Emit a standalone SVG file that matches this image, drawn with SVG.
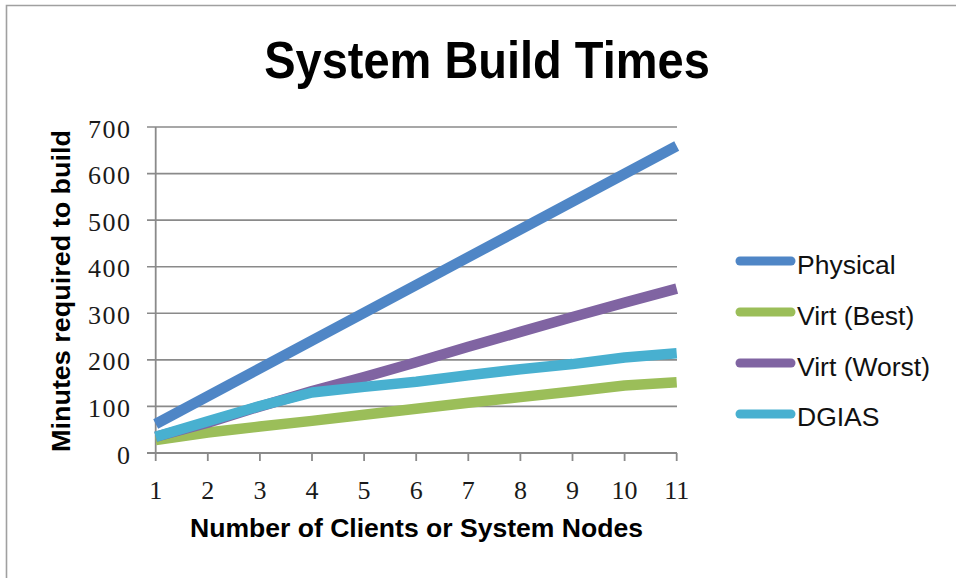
<svg xmlns="http://www.w3.org/2000/svg" width="956" height="578" viewBox="0 0 956 578">
<style>
.frame{stroke:#a0a0a0;stroke-width:1.6;fill:none}
.grid{stroke:#8a8a8a;stroke-width:1.6;fill:none}
.axis{stroke:#8a8a8a;stroke-width:1.8;fill:none}
.ser{fill:none;stroke-width:10.5;stroke-linejoin:round;stroke-linecap:butt}
.leg{fill:none;stroke-width:9;stroke-linecap:round}
.ylab{font-family:"Liberation Serif",serif;font-size:26px;fill:#1a1a1a;text-anchor:end}
.xlab{font-family:"Liberation Serif",serif;font-size:26px;fill:#1a1a1a;text-anchor:middle}
.title{font-family:"Liberation Sans",Arial,sans-serif;font-weight:bold;fill:#000}
.legtxt{font-family:"Liberation Sans",Arial,sans-serif;font-size:26.5px;fill:#111}
.phys{stroke:#4F86C6}
.best{stroke:#9BBE59}
.worst{stroke:#8064A2}
.dgias{stroke:#48B0D0}
</style>
<rect width="956" height="578" fill="#fff"/>
<path class="frame" d="M6.5,578 V5.5 H956"/>
<g id="title"><text class="title" x="487" y="78" font-size="47" text-anchor="middle" transform="translate(0,-7.8) scale(1,1.1)">System Build Times</text></g>
<g id="gridlines">
<path class="grid" d="M147,127H677 M147,173.6H677 M147,220.1H677 M147,266.7H677 M147,313.3H677 M147,359.9H677 M147,406.4H677"/>
</g>
<g id="axes">
<path class="axis" d="M155.7,127V461 M147,453H677"/>
<path class="axis" d="M207.8,453V461 M259.9,453V461 M312,453V461 M364.1,453V461 M416.2,453V461 M468.3,453V461 M520.4,453V461 M572.5,453V461 M624.6,453V461 M676.7,453V461"/>
</g>
<g id="y-labels">
<text class="ylab" x="130" y="137.5" textLength="42" lengthAdjust="spacing">700</text>
<text class="ylab" x="130" y="184" textLength="42" lengthAdjust="spacing">600</text>
<text class="ylab" x="130" y="230.5" textLength="42" lengthAdjust="spacing">500</text>
<text class="ylab" x="130" y="277" textLength="42" lengthAdjust="spacing">400</text>
<text class="ylab" x="130" y="323.5" textLength="42" lengthAdjust="spacing">300</text>
<text class="ylab" x="130" y="370" textLength="42" lengthAdjust="spacing">200</text>
<text class="ylab" x="130" y="417" textLength="42" lengthAdjust="spacing">100</text>
<text class="ylab" x="130" y="464">0</text>
</g>
<g id="x-labels">
<text class="xlab" x="155.7" y="498.5">1</text>
<text class="xlab" x="207.8" y="498.5">2</text>
<text class="xlab" x="259.9" y="498.5">3</text>
<text class="xlab" x="312" y="498.5">4</text>
<text class="xlab" x="364.1" y="498.5">5</text>
<text class="xlab" x="416.2" y="498.5">6</text>
<text class="xlab" x="468.3" y="498.5">7</text>
<text class="xlab" x="520.4" y="498.5">8</text>
<text class="xlab" x="572.5" y="498.5">9</text>
<text class="xlab" x="624.6" y="498.5">10</text>
<text class="xlab" x="676.7" y="498.5">11</text>
</g>
<g id="axis-titles">
<text class="title" font-size="25" x="416.5" y="537" text-anchor="middle" textLength="453" lengthAdjust="spacingAndGlyphs">Number of Clients or System Nodes</text>
<text class="title" font-size="25" transform="translate(70,291) rotate(-90)" x="0" y="0" text-anchor="middle" textLength="322" lengthAdjust="spacingAndGlyphs">Minutes required to build</text>
</g>
<g id="connectors">
<polyline id="series-physical" class="ser phys" points="155.7,424 676.7,146"/>
<polyline id="series-virt-best" class="ser best" points="155.7,440 207.8,432.5 259.9,426.5 312,420.9 364.1,414.8 416.2,408.8 468.3,402.7 520.4,397.1 572.5,391.5 624.6,385.5 676.7,382.2"/>
<polyline id="series-virt-worst" class="ser worst" points="155.7,436.7 207.8,422.7 259.9,406.4 312,391.1 364.1,377.1 416.2,362.2 468.3,346.8 520.4,331.9 572.5,317 624.6,302.6 676.7,288.6"/>
<polyline id="series-dgias" class="ser dgias" points="155.7,436.7 207.8,421.3 259.9,406 312,392.5 364.1,386.9 416.2,381.7 468.3,375.2 520.4,369.2 572.5,364.1 624.6,357.5 676.7,353.3"/>
</g>
<g id="legend">
<g id="legend-physical"><line class="leg phys" x1="740" y1="261" x2="791" y2="261"/><text class="legtxt" x="797" y="273.5">Physical</text></g>
<g id="legend-virt-best"><line class="leg best" x1="740" y1="312" x2="791" y2="312"/><text class="legtxt" x="797" y="324.5">Virt (Best)</text></g>
<g id="legend-virt-worst"><line class="leg worst" x1="740" y1="363" x2="791" y2="363"/><text class="legtxt" x="797" y="375.5">Virt (Worst)</text></g>
<g id="legend-dgias"><line class="leg dgias" x1="740" y1="414" x2="791" y2="414"/><text class="legtxt" x="797" y="426">DGIAS</text></g>
</g>
</svg>
